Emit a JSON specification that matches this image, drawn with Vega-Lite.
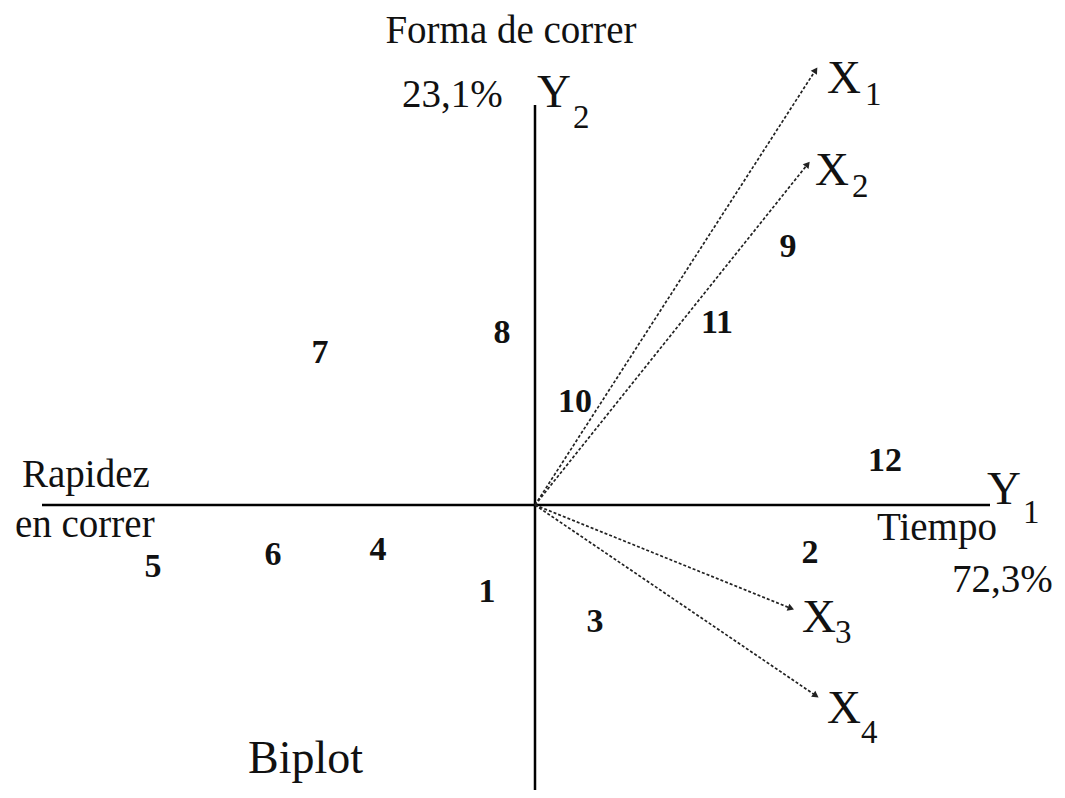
{
  "$schema": "https://vega.github.io/schema/vega-lite/v6.json",
  "width": 1065,
  "height": 798,
  "autosize": {"type": "fit", "contains": "padding"},
  "padding": 0,
  "background": "white",
  "config": {"view": {"stroke": null}},
  "datasets": {
    "axes": [
      {"axis": "Y1", "x": -4.93, "y": 0, "x2": 4.55, "y2": 0},
      {"axis": "Y2", "x": 0, "y": -2.85, "x2": 0, "y2": 4.0}
    ],
    "variables": [
      {"var": "X1", "x": 2.80, "y": 4.34},
      {"var": "X2", "x": 2.72, "y": 3.40},
      {"var": "X3", "x": 2.55, "y": -1.03},
      {"var": "X4", "x": 2.80, "y": -1.90}
    ],
    "individuals": [
      {"id": "1", "x": -0.48, "y": -0.87},
      {"id": "2", "x": 2.75, "y": -0.48},
      {"id": "3", "x": 0.60, "y": -1.17},
      {"id": "4", "x": -1.57, "y": -0.45},
      {"id": "5", "x": -3.82, "y": -0.62},
      {"id": "6", "x": -2.62, "y": -0.50},
      {"id": "7", "x": -2.15, "y": 1.52},
      {"id": "8", "x": -0.33, "y": 1.72},
      {"id": "9", "x": 2.53, "y": 2.58},
      {"id": "10", "x": 0.40, "y": 1.03},
      {"id": "11", "x": 1.82, "y": 1.82},
      {"id": "12", "x": 3.50, "y": 0.44}
    ],
    "symbols": [
      {"label": "X", "x": 2.92, "y": 4.12},
      {"label": "X", "x": 2.80, "y": 3.20},
      {"label": "X", "x": 2.67, "y": -1.27},
      {"label": "X", "x": 2.92, "y": -2.18},
      {"label": "Y", "x": 4.52, "y": 0.01},
      {"label": "Y", "x": 0.02, "y": 3.98}
    ],
    "subscripts": [
      {"label": "1", "x": 3.30, "y": 4.00},
      {"label": "2", "x": 3.17, "y": 3.08},
      {"label": "3", "x": 3.00, "y": -1.38},
      {"label": "4", "x": 3.26, "y": -2.38},
      {"label": "1", "x": 4.88, "y": -0.18},
      {"label": "2", "x": 0.38, "y": 3.77}
    ],
    "captions": [
      {"label": "23,1%", "x": -1.33, "y": 3.98},
      {"label": "Rapidez", "x": -5.13, "y": 0.18},
      {"label": "en correr", "x": -5.20, "y": -0.32},
      {"label": "Tiempo", "x": 3.42, "y": -0.35},
      {"label": "72,3%", "x": 4.17, "y": -0.87}
    ]
  },
  "encoding": {
    "x": {"field": "x", "type": "quantitative", "scale": {"domain": [-5.35, 5.30], "nice": false, "zero": false}, "axis": null},
    "y": {"field": "y", "type": "quantitative", "scale": {"domain": [-2.93, 5.05], "nice": false, "zero": false}, "axis": null}
  },
  "layer": [
    {
      "data": {"name": "axes"},
      "mark": {"type": "rule", "color": "black", "strokeWidth": 2.5},
      "encoding": {"x2": {"field": "x2"}, "y2": {"field": "y2"}}
    },
    {
      "data": {"name": "variables"},
      "transform": [{"calculate": "0", "as": "x0"}, {"calculate": "0", "as": "y0"}],
      "mark": {"type": "rule", "color": "#222222", "strokeWidth": 1.7, "strokeDash": [3, 2]},
      "encoding": {
        "x": {"field": "x0", "type": "quantitative"},
        "y": {"field": "y0", "type": "quantitative"},
        "x2": {"field": "x"},
        "y2": {"field": "y"}
      }
    },
    {
      "data": {"name": "variables"},
      "transform": [{"calculate": "atan2(datum.x, datum.y) * 180 / PI", "as": "heading"}],
      "mark": {"type": "point", "shape": "triangle", "filled": true, "color": "#222222", "size": 55, "opacity": 1},
      "encoding": {"angle": {"field": "heading", "type": "quantitative", "scale": null}}
    },
    {
      "data": {"name": "individuals"},
      "mark": {"type": "text", "font": "Liberation Serif", "fontSize": 34, "fontWeight": "bold", "align": "center", "baseline": "middle", "color": "#111111"},
      "encoding": {"text": {"field": "id"}}
    },
    {
      "data": {"name": "symbols"},
      "mark": {"type": "text", "font": "Liberation Serif", "fontSize": 47, "align": "left", "baseline": "alphabetic", "color": "#111111"},
      "encoding": {"text": {"field": "label"}}
    },
    {
      "data": {"name": "subscripts"},
      "mark": {"type": "text", "font": "Liberation Serif", "fontSize": 33, "align": "left", "baseline": "alphabetic", "color": "#111111"},
      "encoding": {"text": {"field": "label"}}
    },
    {
      "data": {"name": "captions"},
      "mark": {"type": "text", "font": "Liberation Serif", "fontSize": 39, "align": "left", "baseline": "alphabetic", "color": "#111111"},
      "encoding": {"text": {"field": "label"}}
    },
    {
      "data": {"values": [{"label": "Forma de correr", "x": -0.24, "y": 4.62}]},
      "mark": {"type": "text", "font": "Liberation Serif", "fontSize": 39, "align": "center", "baseline": "alphabetic", "color": "#111111"},
      "encoding": {"text": {"field": "label"}}
    },
    {
      "data": {"values": [{"label": "Biplot", "x": -2.87, "y": -2.68}]},
      "mark": {"type": "text", "font": "Liberation Serif", "fontSize": 46, "align": "left", "baseline": "alphabetic", "color": "#111111"},
      "encoding": {"text": {"field": "label"}}
    }
  ]
}
